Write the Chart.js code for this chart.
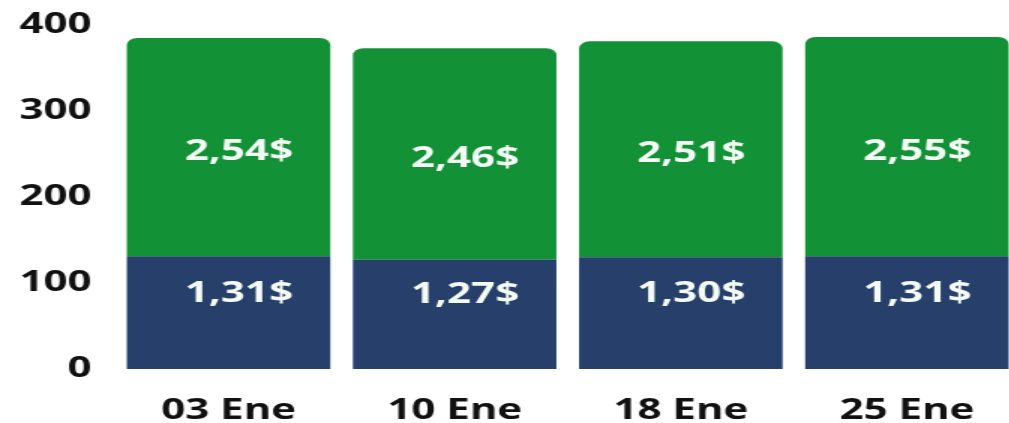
<!DOCTYPE html>
<html>
<head>
<meta charset="utf-8">
<script src="https://cdn.jsdelivr.net/npm/chart.js@4"></script>
<style>
  html, body { margin: 0; padding: 0; background: #fff; overflow: hidden; width: 1009px; height: 423px; }
  /* the reference is stretched sideways, so the chart is drawn narrow and widened */
  #wrap { width: 680px; height: 423px; transform: scaleX(1.5); transform-origin: 0 0; }
</style>
</head>
<body>
<div id="wrap"><canvas id="c"></canvas></div>
<script>
const categories = ["03 Ene", "10 Ene", "18 Ene", "25 Ene"];
const bottomValues = [131, 127, 130, 131];
const topValues = [254, 246, 251, 255];
const yTicks = [0, 100, 200, 300, 400];

const FONT = "'Open Sans', 'Noto Sans', sans-serif";

// white "2,54$" style labels inside each segment
const valueLabels = {
  id: "valueLabels",
  afterDatasetsDraw(chart) {
    const ctx = chart.ctx;
    ctx.save();
    ctx.font = "bold 28px " + FONT;
    ctx.fillStyle = "#f4fbf4";
    ctx.textAlign = "center";
    ctx.textBaseline = "middle";
    chart.data.datasets.forEach((ds, i) => {
      chart.getDatasetMeta(i).data.forEach((bar, j) => {
        const txt = (ds.data[j] / 100).toFixed(2).replace(".", ",") + "$";
        const mid = (bar.y + bar.base) / 2;
        ctx.fillText(txt, bar.x + 7, mid + ds.labelShift);
      });
    });
    ctx.restore();
  },
};

new Chart(document.getElementById("c"), {
  type: "bar",
  data: {
    labels: categories,
    datasets: [
      {
        data: bottomValues, backgroundColor: "#263f6b", borderRadius: 0,
        borderSkipped: "start", labelShift: -19,
      },
      {
        data: topValues, backgroundColor: "#139137",
        borderRadius: { topLeft: 7, topRight: 7, bottomLeft: 0, bottomRight: 0 },
        borderSkipped: "start", labelShift: 5,
      },
    ],
  },
  options: {
    responsive: true, maintainAspectRatio: false, animation: false,
    layout: { padding: { top: 25, left: 0, right: 0, bottom: 0 } },
    datasets: { bar: { categoryPercentage: 1, barPercentage: 0.9 } },
    scales: {
      x: {
        stacked: true,
        grid: { display: false, drawTicks: false }, border: { display: false },
        ticks: { color: "#111", padding: 25, font: { family: FONT, size: 28, weight: "bold" } },
        afterFit: (s) => { s.height = 54; },
      },
      y: {
        stacked: true, min: 0, max: 400,
        afterBuildTicks: (s) => { s.ticks = yTicks.map((v) => ({ value: v })); },
        grid: { display: false, drawTicks: false }, border: { display: false },
        ticks: { color: "#111", padding: 16, font: { family: FONT, size: 28, weight: "bold" } },
        afterFit: (s) => { s.width = 77; s.paddingTop = 0; s.paddingBottom = 0; },
      },
    },
    plugins: { legend: { display: false }, tooltip: { enabled: false } },
  },
  plugins: [valueLabels],
});
</script>
</body>
</html>
